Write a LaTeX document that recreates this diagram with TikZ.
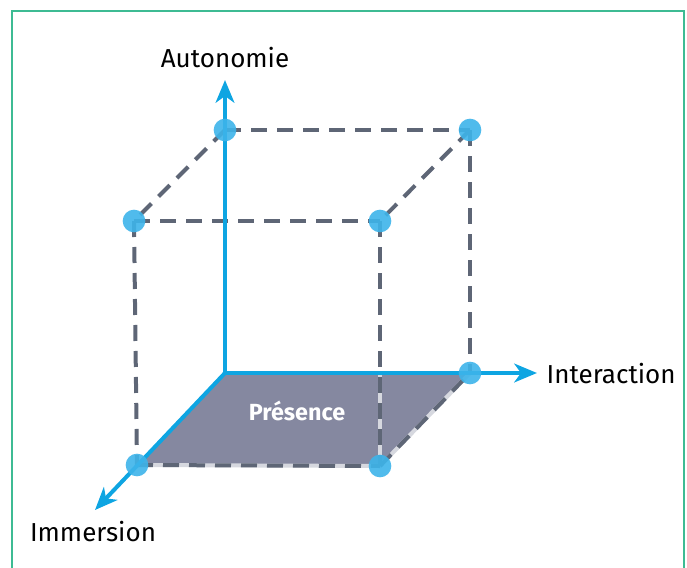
\documentclass[tikz,border=0pt]{standalone}
\usepackage{fontspec}
\setmainfont{Fira Sans}
\usetikzlibrary{arrows.meta, positioning}
\definecolor{axis-blue}{HTML}{0EA5E2}
\definecolor{dot-blue}{HTML}{3DB4EA}
\definecolor{edge-grey}{HTML}{5E6676}
\definecolor{edge-light}{HTML}{D6D8DF}
\definecolor{face-grey}{HTML}{8588A0}
\definecolor{frame-green}{HTML}{3DBB93}

\begin{document}
\begin{tikzpicture}[x=0.75pt, y=-0.75pt,
    axisline/.style={axis-blue, line width=3pt, -{Stealth[length=17pt, width=14pt, inset=5pt]}},
    edgeline/.style={edge-grey, line width=3pt, dash pattern=on 12pt off 7.5pt},
    underlay/.style={edge-light, line width=3pt},
    cornerdot/.style={fill=dot-blue, fill opacity=0.9},
    axislabel/.style={font=\fontsize{19.5}{22}\selectfont, text=black}
]
    \useasboundingbox (0,0) rectangle (687,568);
    % frame
    \draw[frame-green, line width=1.5pt] (12,572) -- (12,11) -- (684,11) -- (684,572);

    % cube corners
    \coordinate (O) at (225,373);
    \coordinate (btl) at (225,130);
    \coordinate (btr) at (470,130);
    \coordinate (bbr) at (470,373);
    \coordinate (ftl) at (134,221);
    \coordinate (ftr) at (380,221);
    \coordinate (fbl) at (137,465);
    \coordinate (fbr) at (380,466);
    \coordinate (tipA) at (225,80);
    \coordinate (tipB) at (537,373);
    \coordinate (tipC) at (95,510);

    % bottom face
    \fill[face-grey] (O) -- (bbr) -- (fbr) -- (fbl) -- cycle;
    \node[white, font=\fontsize{17.5}{20}\selectfont\bfseries] (presence) at (297,411) {Présence};

    % dashed edges
    \draw[underlay] (fbl) -- (fbr) -- (bbr);
    \draw[underlay] (fbr) -- (fbr |- O);
    \draw[edgeline] (btl) -- (btr);
    \draw[edgeline] (ftl) -- (ftr);
    \draw[edgeline] (btl) -- (ftl);
    \draw[edgeline] (btr) -- (ftr);
    \draw[edgeline] (ftl) -- (fbl);
    \draw[edgeline] (ftr) -- (fbr);
    \draw[edgeline] (btr) -- (bbr);
    \draw[edgeline] (fbl) -- (fbr);
    \draw[edgeline] (fbr) -- (bbr);

    % axes
    \draw[axisline] (O) -- (tipA);
    \draw[axisline] (O) -- (tipB);
    \draw[axisline] (O) -- (tipC);

    % corner dots
    \foreach \c in {btl, btr, bbr, ftl, ftr, fbl, fbr}
        \fill[cornerdot] (\c) circle (8.5pt);

    % labels
    \node[axislabel] (autonomie) at (225,58) {Autonomie};
    \node[axislabel, anchor=west] (interaction) at (542,374) {Interaction};
    \node[axislabel] (immersion) at (93,532) {Immersion};
\end{tikzpicture}
\end{document}
